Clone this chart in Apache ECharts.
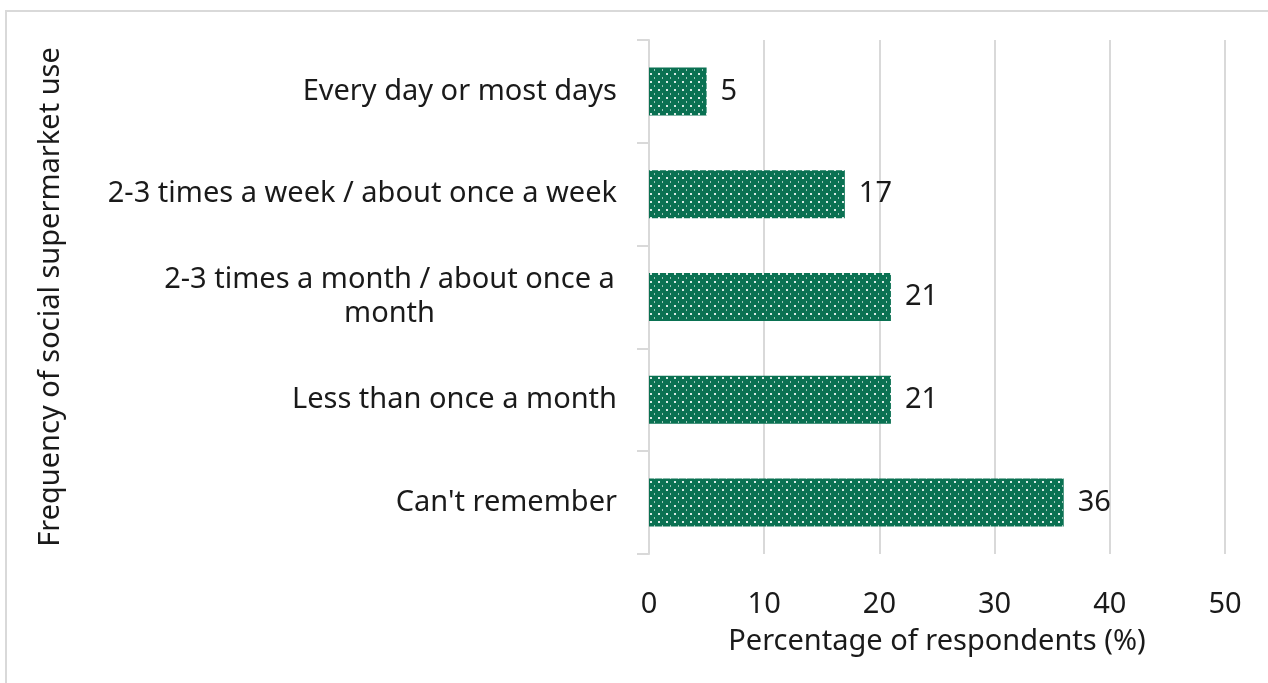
<!DOCTYPE html>
<html>
<head>
<meta charset="utf-8">
<script src="https://cdn.jsdelivr.net/npm/echarts@6/dist/echarts.min.js"></script>
<style>
  html, body { margin: 0; padding: 0; background: #fff; }
  #frame {
    position: absolute; left: 5px; top: 10px; width: 1275px; height: 690px;
    border: 2px solid #d9d9d9; box-sizing: border-box;
  }
  #chart { position: absolute; left: 0; top: 0; width: 1268px; height: 683px; }
</style>
</head>
<body>
<div id="frame"></div>
<div id="chart"></div>
<script>
// categories listed bottom to top (category axis starts at the bottom)
const categories = [
  "Can't remember",
  'Less than once a month',
  '2-3 times a month / about once a\nmonth',
  '2-3 times a week / about once a week',
  'Every day or most days',
]
const percentages = [36, 21, 21, 17, 5]
const xTicks = { min: 0, max: 50, interval: 10 }

const FONT = '"Noto Sans", "Open Sans", sans-serif'
const SIZE = 29
const TEXT = '#1a1a1a'
const GREEN = '#0a7152'

// dotted fill like the original bars
const makePattern = () => {
  const c = document.createElement('canvas')
  c.width = 8
  c.height = 8
  const ctx = c.getContext('2d')
  ctx.fillStyle = GREEN
  ctx.fillRect(0, 0, 8, 8)
  ctx.fillStyle = 'rgba(255,255,255,0.85)'
  ctx.fillRect(2, 1, 2, 2)
  ctx.fillStyle = 'rgba(255,255,255,0.6)'
  ctx.fillRect(6, 5, 1, 2)
  return c
}

const chart = echarts.init(document.getElementById('chart'))

chart.setOption({
  animation: false,
  backgroundColor: 'transparent',
  grid: { left: 649, right: 43, top: 40, bottom: 129 },
  xAxis: {
    type: 'value',
    min: xTicks.min,
    max: xTicks.max,
    interval: xTicks.interval,
    name: 'Percentage of respondents (%)',
    nameLocation: 'middle',
    nameGap: 73,
    nameTextStyle: { fontFamily: FONT, fontSize: SIZE, color: TEXT },
    axisLine: { show: false },
    axisTick: { show: false },
    axisLabel: { fontFamily: FONT, fontSize: SIZE, color: TEXT, margin: 36 },
    splitLine: { lineStyle: { color: '#d9d9d9', width: 2 } },
  },
  yAxis: {
    type: 'category',
    data: categories,
    name: 'Frequency of social supermarket use',
    nameLocation: 'middle',
    nameGap: 584,
    nameTextStyle: { fontFamily: FONT, fontSize: SIZE, color: TEXT },
    axisLine: { show: true, lineStyle: { color: '#d9d9d9', width: 2 } },
    axisTick: { show: true, length: 12, lineStyle: { color: '#d9d9d9', width: 2 } },
    axisLabel: {
      fontFamily: FONT,
      fontSize: SIZE,
      color: TEXT,
      margin: 32,
      lineHeight: 34,
      formatter: (v) => {
        if (v.indexOf('\n') < 0) return v
        return v.split('\n').map((s) => '{c|' + s + '}').join('\n')
      },
      rich: {
        c: { width: 455, align: 'center', fontFamily: FONT, fontSize: SIZE, color: TEXT, lineHeight: 34 },
      },
    },
  },
  series: [
    {
      type: 'bar',
      data: percentages,
      barWidth: 48,
      itemStyle: { color: { image: makePattern(), repeat: 'repeat' } },
      label: {
        show: true,
        position: 'right',
        distance: 14,
        fontFamily: FONT,
        fontSize: SIZE,
        color: TEXT,
      },
    },
  ],
})
</script>
</body>
</html>
